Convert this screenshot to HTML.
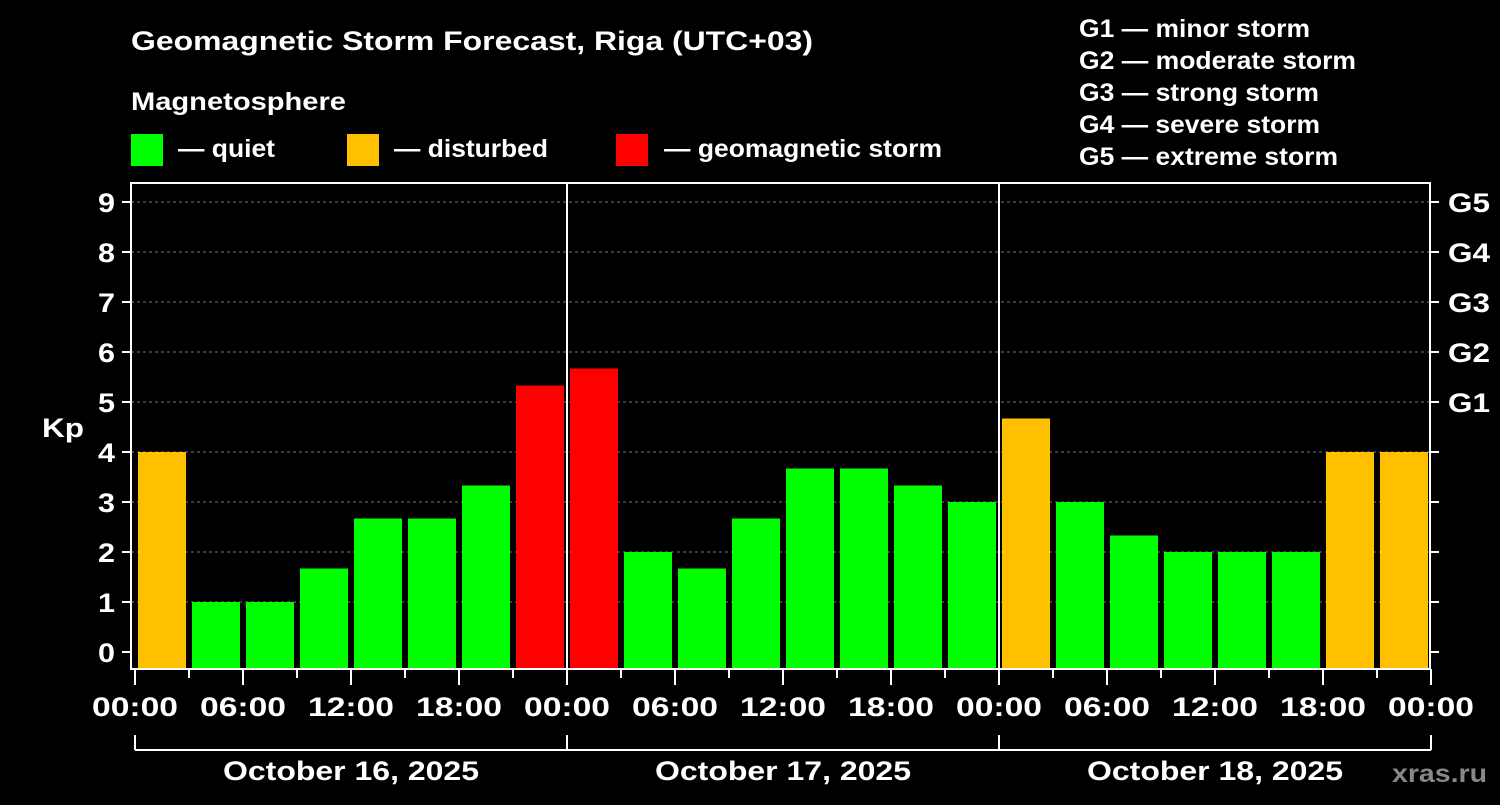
<!DOCTYPE html>
<html><head><meta charset="utf-8"><style>
body{margin:0;background:#000;width:1500px;height:800px;overflow:hidden}
text{font-family:"Liberation Sans",sans-serif;font-weight:bold;fill:#fff}
</style></head><body>
<svg id="c" width="1500" height="800">
<text x="131" y="50" font-size="27" textLength="682" lengthAdjust="spacingAndGlyphs">Geomagnetic Storm Forecast, Riga (UTC+03)</text>
<text x="131" y="110" font-size="25" textLength="215" lengthAdjust="spacingAndGlyphs">Magnetosphere</text>
<rect x="131" y="134" width="32" height="32" fill="#00ff00"/>
<text x="178" y="157" font-size="25" textLength="97" lengthAdjust="spacingAndGlyphs">— quiet</text>
<rect x="347" y="134" width="32" height="32" fill="#ffc000"/>
<text x="394" y="157" font-size="25" textLength="154" lengthAdjust="spacingAndGlyphs">— disturbed</text>
<rect x="616" y="134" width="32" height="32" fill="#ff0000"/>
<text x="664" y="157" font-size="25" textLength="278" lengthAdjust="spacingAndGlyphs">— geomagnetic storm</text>
<g font-size="25">
<text x="1079" y="37" textLength="231" lengthAdjust="spacingAndGlyphs">G1 — minor storm</text>
<text x="1079" y="69" textLength="277" lengthAdjust="spacingAndGlyphs">G2 — moderate storm</text>
<text x="1079" y="101" textLength="240" lengthAdjust="spacingAndGlyphs">G3 — strong storm</text>
<text x="1079" y="133" textLength="241" lengthAdjust="spacingAndGlyphs">G4 — severe storm</text>
<text x="1079" y="165" textLength="259" lengthAdjust="spacingAndGlyphs">G5 — extreme storm</text>
</g>
<text x="42" y="437" font-size="27" textLength="42" lengthAdjust="spacingAndGlyphs">Kp</text>
<text x="1392" y="782" font-size="25" textLength="95" lengthAdjust="spacingAndGlyphs" style="fill:#888">xras.ru</text>
<g id="plot"></g>
</svg>
<script>
const days = ["October 16, 2025","October 17, 2025","October 18, 2025"];
const kpValues = [4,1,1,1.67,2.67,2.67,3.33,5.33, 5.67,2,1.67,2.67,3.67,3.67,3.33,3, 4.67,3,2.33,2,2,2,4,4];
const yTicks = [0,1,2,3,4,5,6,7,8,9];
const gLabels = ["G1","G2","G3","G4","G5"];
const hourLabels = ["00:00","06:00","12:00","18:00"];
const NS="http://www.w3.org/2000/svg";
const g=document.getElementById('plot');
const X0=135, DAYW=432, L=131, R=1430, T=183, B=669;
const xs = h => X0 + h*DAYW/24;
const ys = v => 652 - 50*v;
function mk(tag,attrs,parent){const e=document.createElementNS(NS,tag);for(const k in attrs)e.setAttribute(k,attrs[k]);(parent||g).appendChild(e);return e;}
yTicks.forEach(v=>{ if(v>0){const l=mk('line',{x1:L,x2:R,y1:ys(v),y2:ys(v),stroke:'#777','stroke-width':1,'stroke-dasharray':'3,3'});

}
 mk('line',{x1:L-9,x2:L,y1:ys(v),y2:ys(v),stroke:'#fff','stroke-width':2});
 mk('line',{x1:R,x2:R+9,y1:ys(v),y2:ys(v),stroke:'#fff','stroke-width':2});
 const lb=mk('text',{x:115,y:ys(v)+10,'font-size':27,'text-anchor':'end',textLength:17,lengthAdjust:'spacingAndGlyphs'});lb.textContent=v;
 
 
});
gLabels.forEach((s,i)=>{const lb=mk('text',{x:1448,y:ys(5+i)+10,'font-size':27,textLength:42,lengthAdjust:'spacingAndGlyphs'});lb.textContent=s;
 
 });
kpValues.forEach((v,i)=>{const c=v>=5?'#ff0000':(v>=4?'#ffc000':'#00ff00');
 const x=xs(i*3)+3;
 const r=mk('rect',{x:x,y:ys(v),width:48,height:B-ys(v),fill:c});
 
 });
const f=mk('rect',{x:L,y:T,width:R-L,height:B-T,fill:'none',stroke:'#fff','stroke-width':2});


for(let d=1;d<days.length;d++){mk('line',{x1:xs(d*24),x2:xs(d*24),y1:T,y2:B,stroke:'#fff','stroke-width':2});}
for(let h=0;h<=days.length*24;h+=3){const major=h%6==0;mk('line',{x1:xs(h),x2:xs(h),y1:B,y2:B+(major?16:9),stroke:'#fff','stroke-width':2});
 if(major){const lb=mk('text',{x:xs(h),y:716,'font-size':27,'text-anchor':'middle',textLength:86,lengthAdjust:'spacingAndGlyphs'});lb.textContent=hourLabels[(h%24)/6];
 
 }}
mk('line',{x1:xs(0),x2:xs(days.length*24),y1:750,y2:750,stroke:'#fff','stroke-width':2});
for(let d=0;d<=days.length;d++)mk('line',{x1:xs(d*24),x2:xs(d*24),y1:735,y2:750,stroke:'#fff','stroke-width':2});
days.forEach((s,d)=>{const lb=mk('text',{x:xs(d*24+12),y:780,'font-size':27,'text-anchor':'middle',textLength:256,lengthAdjust:'spacingAndGlyphs'});lb.textContent=s;
 
 });
</script>
</body></html>
